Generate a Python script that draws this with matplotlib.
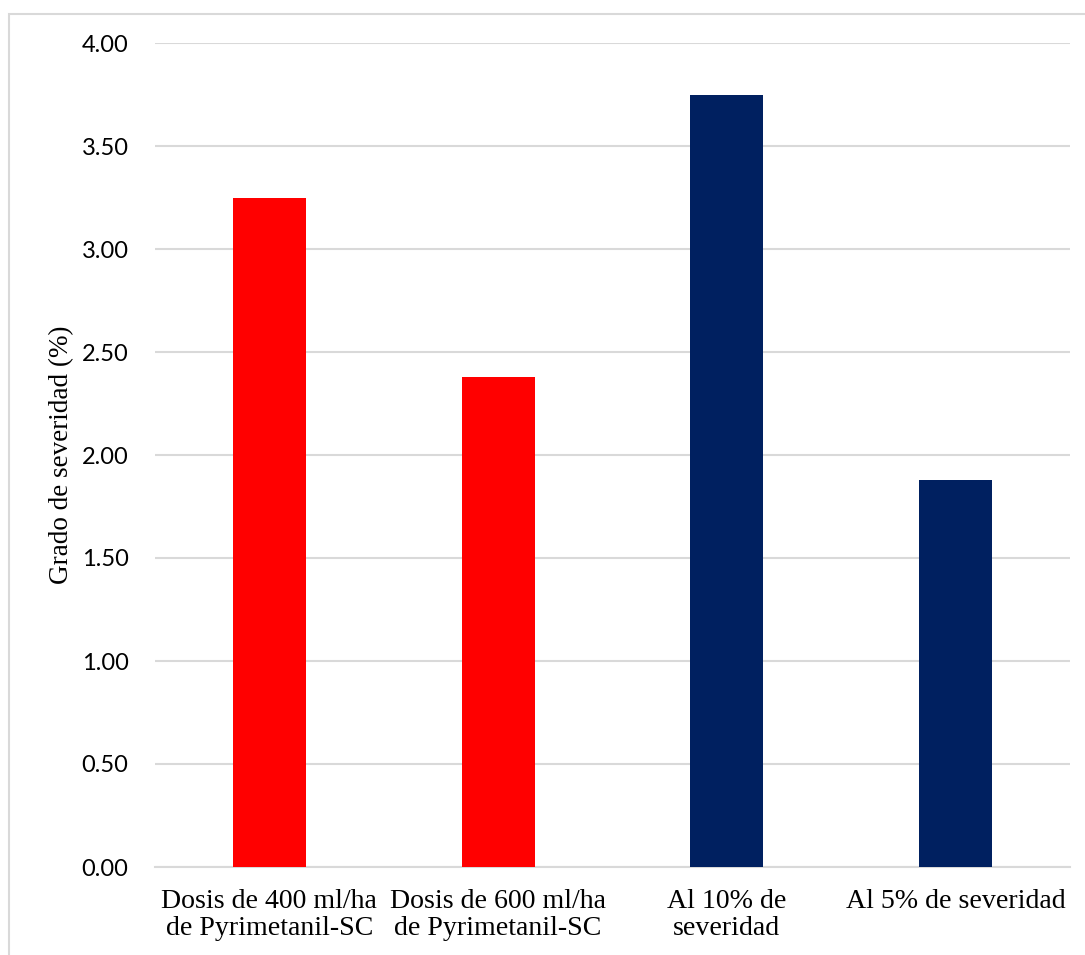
import matplotlib.pyplot as plt
from matplotlib.patches import Rectangle
import numpy as np

# === Data ===
categories = ["Dosis de 400 ml/ha\nde Pyrimetanil-SC",
              "Dosis de 600 ml/ha\nde Pyrimetanil-SC",
              "Al 10% de\nseveridad",
              "Al 5% de severidad"]
severity = [3.25, 2.38, 3.75, 1.88]
bar_colors = ['#FF0000', '#FF0000', '#002060', '#002060']
yticks = [0.0, 0.5, 1.0, 1.5, 2.0, 2.5, 3.0, 3.5, 4.0]

fig = plt.figure(figsize=(10.85, 9.55), dpi=100)
ax = fig.add_axes([155 / 1085, 1 - 867 / 955, 915 / 1085, 824 / 955])

# chart border
fig.patches.append(Rectangle((9 / 1085, -0.1), 1.2, 1 - 14 / 955 + 0.1,
                             transform=fig.transFigure, fill=False,
                             edgecolor='#d9d9d9', linewidth=1.5))

x = np.arange(len(categories))
ax.bar(x, severity, width=0.32, color=bar_colors, zorder=3)

ax.set_xlim(-0.5, len(categories) - 0.5)
ax.set_ylim(0, 4)
ax.set_yticks(yticks)
ax.set_yticklabels([f"{v:.2f}" for v in yticks], family='Lato', fontsize=17)
ax.set_xticks(x)
ax.set_xticklabels(categories, family='Liberation Serif', fontsize=20.1,
                   linespacing=1.1)
ax.tick_params(length=0)
ax.tick_params(axis='x', pad=16)
ax.tick_params(axis='y', pad=19)

ax.grid(axis='y', color='#d9d9d9', linewidth=1.5, zorder=0)
for side in ['top', 'right', 'left']:
    ax.spines[side].set_visible(False)
ax.spines['bottom'].set_color('#d9d9d9')
ax.spines['bottom'].set_linewidth(1.5)

ax.set_ylabel("Grado de severidad (%)", family='Liberation Serif', fontsize=19.5)
ax.yaxis.set_label_coords(-0.088, 0.5)

fig.savefig("out.png", dpi=100)
